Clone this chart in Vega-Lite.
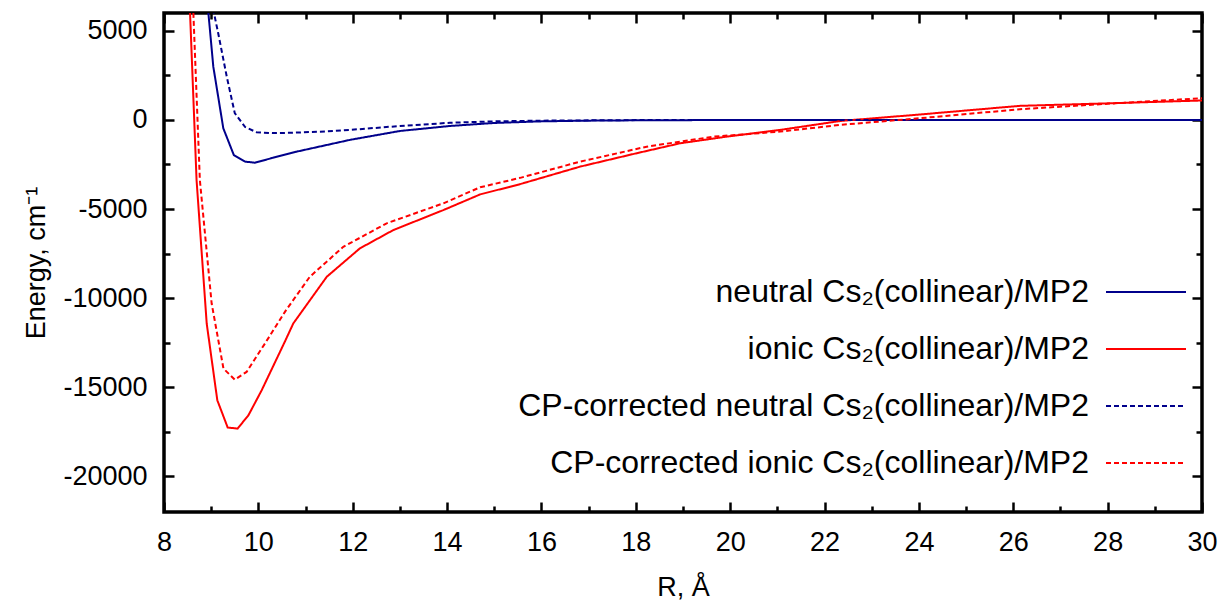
{
  "$schema": "https://vega.github.io/schema/vega-lite/v6.json",
  "width": 1038,
  "height": 499,
  "autosize": "none",
  "padding": {"left": 164, "top": 13, "right": 22, "bottom": 88},
  "background": "white",
  "config": {
    "font": "Liberation Sans",
    "view": {"stroke": "black", "strokeWidth": 3.5},
    "axis": {
      "domain": false,
      "grid": false,
      "tickColor": "black",
      "tickWidth": 2.5,
      "labelColor": "black",
      "labelFontSize": 27,
      "labelFont": "Liberation Sans",
      "titleFont": "Liberation Sans",
      "titleFontSize": 27,
      "titleFontWeight": "normal",
      "titleColor": "black"
    }
  },
  "data": {
    "values": [
      {"series": "neutral Cs₂(collinear)/MP2", "R": 8.75, "E": 11500},
      {"series": "neutral Cs₂(collinear)/MP2", "R": 9.045, "E": 2990},
      {"series": "neutral Cs₂(collinear)/MP2", "R": 9.257, "E": -470},
      {"series": "neutral Cs₂(collinear)/MP2", "R": 9.48, "E": -1970},
      {"series": "neutral Cs₂(collinear)/MP2", "R": 9.72, "E": -2340},
      {"series": "neutral Cs₂(collinear)/MP2", "R": 9.93, "E": -2400},
      {"series": "neutral Cs₂(collinear)/MP2", "R": 10.3, "E": -2130},
      {"series": "neutral Cs₂(collinear)/MP2", "R": 10.81, "E": -1780},
      {"series": "neutral Cs₂(collinear)/MP2", "R": 11.94, "E": -1120},
      {"series": "neutral Cs₂(collinear)/MP2", "R": 13.0, "E": -620},
      {"series": "neutral Cs₂(collinear)/MP2", "R": 14.06, "E": -340},
      {"series": "neutral Cs₂(collinear)/MP2", "R": 15.0, "E": -170},
      {"series": "neutral Cs₂(collinear)/MP2", "R": 16.0, "E": -80},
      {"series": "neutral Cs₂(collinear)/MP2", "R": 17.0, "E": -40},
      {"series": "neutral Cs₂(collinear)/MP2", "R": 18.0, "E": -20},
      {"series": "neutral Cs₂(collinear)/MP2", "R": 20.0, "E": -5},
      {"series": "neutral Cs₂(collinear)/MP2", "R": 22.0, "E": 0},
      {"series": "neutral Cs₂(collinear)/MP2", "R": 25.0, "E": 0},
      {"series": "neutral Cs₂(collinear)/MP2", "R": 30.0, "E": 0},

      {"series": "ionic Cs₂(collinear)/MP2", "R": 8.47, "E": 11600},
      {"series": "ionic Cs₂(collinear)/MP2", "R": 8.69, "E": -3370},
      {"series": "ionic Cs₂(collinear)/MP2", "R": 8.905, "E": -11420},
      {"series": "ionic Cs₂(collinear)/MP2", "R": 9.13, "E": -15730},
      {"series": "ionic Cs₂(collinear)/MP2", "R": 9.35, "E": -17260},
      {"series": "ionic Cs₂(collinear)/MP2", "R": 9.56, "E": -17320},
      {"series": "ionic Cs₂(collinear)/MP2", "R": 9.79, "E": -16570},
      {"series": "ionic Cs₂(collinear)/MP2", "R": 10.07, "E": -15170},
      {"series": "ionic Cs₂(collinear)/MP2", "R": 10.56, "E": -12450},
      {"series": "ionic Cs₂(collinear)/MP2", "R": 10.74, "E": -11420},
      {"series": "ionic Cs₂(collinear)/MP2", "R": 11.45, "E": -8800},
      {"series": "ionic Cs₂(collinear)/MP2", "R": 12.15, "E": -7210},
      {"series": "ionic Cs₂(collinear)/MP2", "R": 12.86, "E": -6180},
      {"series": "ionic Cs₂(collinear)/MP2", "R": 13.92, "E": -5060},
      {"series": "ionic Cs₂(collinear)/MP2", "R": 14.7, "E": -4180},
      {"series": "ionic Cs₂(collinear)/MP2", "R": 15.55, "E": -3600},
      {"series": "ionic Cs₂(collinear)/MP2", "R": 16.82, "E": -2620},
      {"series": "ionic Cs₂(collinear)/MP2", "R": 18.0, "E": -1880},
      {"series": "ionic Cs₂(collinear)/MP2", "R": 18.94, "E": -1310},
      {"series": "ionic Cs₂(collinear)/MP2", "R": 20.0, "E": -910},
      {"series": "ionic Cs₂(collinear)/MP2", "R": 21.06, "E": -560},
      {"series": "ionic Cs₂(collinear)/MP2", "R": 22.33, "E": -60},
      {"series": "ionic Cs₂(collinear)/MP2", "R": 24.0, "E": 300},
      {"series": "ionic Cs₂(collinear)/MP2", "R": 26.14, "E": 790},
      {"series": "ionic Cs₂(collinear)/MP2", "R": 28.0, "E": 930},
      {"series": "ionic Cs₂(collinear)/MP2", "R": 30.0, "E": 1090},

      {"series": "CP-corrected neutral Cs₂(collinear)/MP2", "R": 8.9, "E": 8000},
      {"series": "CP-corrected neutral Cs₂(collinear)/MP2", "R": 9.15, "E": 4850},
      {"series": "CP-corrected neutral Cs₂(collinear)/MP2", "R": 9.33, "E": 2430},
      {"series": "CP-corrected neutral Cs₂(collinear)/MP2", "R": 9.5, "E": 380},
      {"series": "CP-corrected neutral Cs₂(collinear)/MP2", "R": 9.72, "E": -400},
      {"series": "CP-corrected neutral Cs₂(collinear)/MP2", "R": 9.96, "E": -690},
      {"series": "CP-corrected neutral Cs₂(collinear)/MP2", "R": 10.3, "E": -740},
      {"series": "CP-corrected neutral Cs₂(collinear)/MP2", "R": 10.7, "E": -720},
      {"series": "CP-corrected neutral Cs₂(collinear)/MP2", "R": 11.3, "E": -660},
      {"series": "CP-corrected neutral Cs₂(collinear)/MP2", "R": 11.94, "E": -560},
      {"series": "CP-corrected neutral Cs₂(collinear)/MP2", "R": 13.0, "E": -340},
      {"series": "CP-corrected neutral Cs₂(collinear)/MP2", "R": 14.06, "E": -160},
      {"series": "CP-corrected neutral Cs₂(collinear)/MP2", "R": 15.0, "E": -80},
      {"series": "CP-corrected neutral Cs₂(collinear)/MP2", "R": 16.0, "E": -40},
      {"series": "CP-corrected neutral Cs₂(collinear)/MP2", "R": 18.0, "E": -10},
      {"series": "CP-corrected neutral Cs₂(collinear)/MP2", "R": 20.0, "E": 0},
      {"series": "CP-corrected neutral Cs₂(collinear)/MP2", "R": 25.0, "E": 0},
      {"series": "CP-corrected neutral Cs₂(collinear)/MP2", "R": 30.0, "E": 0},

      {"series": "CP-corrected ionic Cs₂(collinear)/MP2", "R": 8.55, "E": 10940},
      {"series": "CP-corrected ionic Cs₂(collinear)/MP2", "R": 8.76, "E": -3370},
      {"series": "CP-corrected ionic Cs₂(collinear)/MP2", "R": 9.01, "E": -10300},
      {"series": "CP-corrected ionic Cs₂(collinear)/MP2", "R": 9.26, "E": -13950},
      {"series": "CP-corrected ionic Cs₂(collinear)/MP2", "R": 9.5, "E": -14570},
      {"series": "CP-corrected ionic Cs₂(collinear)/MP2", "R": 9.75, "E": -14140},
      {"series": "CP-corrected ionic Cs₂(collinear)/MP2", "R": 10.14, "E": -12545},
      {"series": "CP-corrected ionic Cs₂(collinear)/MP2", "R": 10.58, "E": -10700},
      {"series": "CP-corrected ionic Cs₂(collinear)/MP2", "R": 11.09, "E": -8800},
      {"series": "CP-corrected ionic Cs₂(collinear)/MP2", "R": 11.8, "E": -7120},
      {"series": "CP-corrected ionic Cs₂(collinear)/MP2", "R": 12.72, "E": -5800},
      {"series": "CP-corrected ionic Cs₂(collinear)/MP2", "R": 13.92, "E": -4680},
      {"series": "CP-corrected ionic Cs₂(collinear)/MP2", "R": 14.7, "E": -3780},
      {"series": "CP-corrected ionic Cs₂(collinear)/MP2", "R": 15.55, "E": -3250},
      {"series": "CP-corrected ionic Cs₂(collinear)/MP2", "R": 16.82, "E": -2340},
      {"series": "CP-corrected ionic Cs₂(collinear)/MP2", "R": 18.23, "E": -1500},
      {"series": "CP-corrected ionic Cs₂(collinear)/MP2", "R": 19.64, "E": -940},
      {"series": "CP-corrected ionic Cs₂(collinear)/MP2", "R": 21.06, "E": -655},
      {"series": "CP-corrected ionic Cs₂(collinear)/MP2", "R": 22.33, "E": -280},
      {"series": "CP-corrected ionic Cs₂(collinear)/MP2", "R": 24.0, "E": 90},
      {"series": "CP-corrected ionic Cs₂(collinear)/MP2", "R": 26.14, "E": 600},
      {"series": "CP-corrected ionic Cs₂(collinear)/MP2", "R": 28.0, "E": 910},
      {"series": "CP-corrected ionic Cs₂(collinear)/MP2", "R": 30.0, "E": 1220}
    ]
  },
  "layer": [
    {
      "mark": {"type": "line", "clip": true, "strokeWidth": 2},
      "encoding": {
        "x": {
          "field": "R",
          "type": "quantitative",
          "scale": {"domain": [8, 30], "nice": false, "zero": false},
          "axis": {
            "orient": "bottom",
            "title": "R, Å",
            "values": [8, 9, 10, 11, 12, 13, 14, 15, 16, 17, 18, 19, 20, 21, 22, 23, 24, 25, 26, 27, 28, 29, 30],
            "tickSize": {"condition": {"test": "datum.value % 2 === 0", "value": -10}, "value": -6},
            "labelExpr": "datum.value % 2 === 0 ? datum.label : ''",
            "labelPadding": 27,
            "labelFlush": false,
            "titlePadding": 19
          }
        },
        "y": {
          "field": "E",
          "type": "quantitative",
          "scale": {"domain": [-22000, 6000], "nice": false, "zero": false},
          "axis": {
            "orient": "left",
            "title": "Energy, cm⁻¹",
            "values": [-20000, -17500, -15000, -12500, -10000, -7500, -5000, -2500, 0, 2500, 5000],
            "tickSize": {"condition": {"test": "datum.value % 5000 === 0", "value": -10}, "value": -6},
            "labelExpr": "datum.value % 5000 === 0 ? datum.value : ''",
            "labelPadding": 27,
            "labelFlush": false,
            "titlePadding": 12
          }
        },
        "color": {
          "field": "series",
          "type": "nominal",
          "scale": {
            "domain": ["neutral Cs₂(collinear)/MP2", "ionic Cs₂(collinear)/MP2", "CP-corrected neutral Cs₂(collinear)/MP2", "CP-corrected ionic Cs₂(collinear)/MP2"],
            "range": ["#00008b", "#ff0000", "#00008b", "#ff0000"]
          },
          "legend": {
            "title": null,
            "orient": "none",
            "legendX": 941,
            "legendY": 238,
            "padding": 0,
            "symbolType": "stroke",
            "symbolSize": 6400,
            "symbolStrokeWidth": 2,
            "labelAlign": "right",
            "labelOffset": -98,
            "labelFontSize": 32,
            "labelFont": "Liberation Sans",
            "labelColor": "black",
            "labelLimit": 0,
            "rowPadding": 0
          }
        },
        "strokeDash": {
          "field": "series",
          "type": "nominal",
          "scale": {
            "domain": ["neutral Cs₂(collinear)/MP2", "ionic Cs₂(collinear)/MP2", "CP-corrected neutral Cs₂(collinear)/MP2", "CP-corrected ionic Cs₂(collinear)/MP2"],
            "range": [[1, 0], [1, 0], [5, 3], [5, 3]]
          },
          "legend": {
            "title": null,
            "orient": "none",
            "legendX": 941,
            "legendY": 238,
            "padding": 0,
            "symbolType": "stroke",
            "symbolSize": 6400,
            "symbolStrokeWidth": 2,
            "labelAlign": "right",
            "labelOffset": -98,
            "labelFontSize": 32,
            "labelFont": "Liberation Sans",
            "labelColor": "black",
            "labelLimit": 0,
            "rowPadding": 0
          }
        }
      }
    },
    {
      "mark": {"type": "line", "clip": true, "strokeOpacity": 0},
      "encoding": {
        "x": {
          "field": "R",
          "type": "quantitative",
          "axis": {
            "orient": "top",
            "title": null,
            "labels": false,
            "values": [8, 9, 10, 11, 12, 13, 14, 15, 16, 17, 18, 19, 20, 21, 22, 23, 24, 25, 26, 27, 28, 29, 30],
            "tickSize": {"condition": {"test": "datum.value % 2 === 0", "value": -10}, "value": -6}
          }
        },
        "y": {
          "field": "E",
          "type": "quantitative",
          "axis": {
            "orient": "right",
            "title": null,
            "labels": false,
            "values": [-20000, -17500, -15000, -12500, -10000, -7500, -5000, -2500, 0, 2500, 5000],
            "tickSize": {"condition": {"test": "datum.value % 5000 === 0", "value": -10}, "value": -6}
          }
        },
        "detail": {"field": "series", "type": "nominal"}
      }
    }
  ],
  "resolve": {"axis": {"x": "independent", "y": "independent"}}
}
